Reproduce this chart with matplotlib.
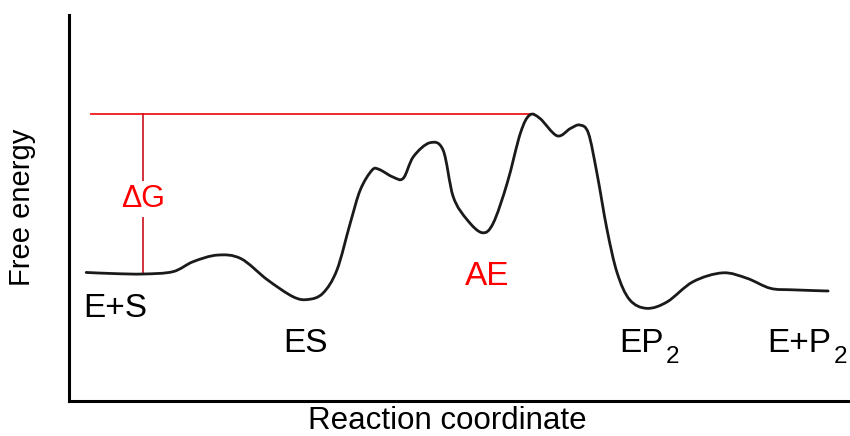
import matplotlib
matplotlib.use("Agg")
import matplotlib.pyplot as plt
import numpy as np
from matplotlib.path import Path
from matplotlib.patches import PathPatch

plt.rcParams['font.family'] = ['Liberation Sans', 'DejaVu Sans']

# free energy profile along the reaction coordinate (0-100 units)
coord = [2.2, 5.9, 9.5, 13.3, 15.9, 19.0, 22.0, 25.4, 28.7, 30.6, 32.5, 34.3,
         36.0, 37.3, 38.8, 39.7, 41.5, 42.8, 44.1, 46.2, 47.9, 49.2, 51.0, 52.9,
         54.3, 56.1, 57.8, 59.0, 60.3, 62.5, 64.2, 65.4, 66.5, 67.6, 68.9, 70.2,
         71.8, 74.0, 76.6, 79.9, 83.7, 86.8, 89.8, 92.7, 97.2]
energy = [33.3, 33.0, 32.9, 33.5, 36.1, 37.8, 36.9, 31.4, 27.0, 26.3, 27.9, 33.9,
          46.0, 54.7, 59.8, 60.0, 58.0, 57.7, 63.3, 66.9, 65.0, 52.9, 46.9, 43.6,
          46.0, 56.4, 69.4, 74.1, 73.2, 68.7, 70.6, 71.5, 69.4, 59.0, 44.3, 33.1,
          26.2, 24.0, 25.7, 30.9, 33.2, 31.8, 29.2, 28.8, 28.5]

# activation energy marker
barrier_top = 74.35
barrier_base = 32.9
barrier_x = 9.5
barrier_start = 2.8
barrier_end = 59.0

# state labels: text, subscript, left x, baseline y, colour
labels = ['E+S', 'ES', 'AE', 'EP', 'E+P']
label_subs = ['', '', '', '2', '2']
label_x = [1.8, 27.4, 50.7, 70.5, 89.4]
label_y = [21.8, 12.7, 30.1, 12.7, 12.7]
label_colors = ['black', 'black', '#ff0000', 'black', 'black']


def smooth_path(xs, ys):
    # catmull-rom through the read points, drawn as cubic bezier segments
    pts = np.column_stack([xs, ys])
    verts = [pts[0]]
    codes = [Path.MOVETO]
    n = len(pts)
    for i in range(n - 1):
        p0 = pts[max(i - 1, 0)]
        p1 = pts[i]
        p2 = pts[i + 1]
        p3 = pts[min(i + 2, n - 1)]
        verts += [p1 + (p2 - p0) / 6, p2 - (p3 - p1) / 6, p2]
        codes += [Path.CURVE4] * 3
    return Path(verts, codes)


fig = plt.figure(figsize=(8.5, 4.36), dpi=100)
ax = fig.add_axes([69 / 850, 1 - 401 / 436, 781 / 850, 386 / 436])

ax.add_patch(PathPatch(smooth_path(coord, energy), facecolor='none',
                       edgecolor='#1a1a1a', lw=2.0, capstyle='round',
                       joinstyle='round', zorder=3))

ax.plot([barrier_start, barrier_end], [barrier_top, barrier_top],
        color='#f01818', lw=1.3, zorder=2)
ax.plot([barrier_x, barrier_x], [barrier_top, barrier_base],
        color='#c8101c', lw=1.2, zorder=2)
ax.text(barrier_x, 50.3, '\u0394G', color='#ff0000', fontsize=22,
        ha='center', va='baseline', zorder=4,
        bbox=dict(facecolor='white', edgecolor='none', pad=2))

for txt, sub, x, y, c in zip(labels, label_subs, label_x, label_y, label_colors):
    t = ax.text(x, y, txt, color=c, fontsize=24, ha='left', va='baseline')
    if sub:
        ax.annotate(sub, xy=(1, 0), xycoords=t, xytext=(1.5, -3),
                    textcoords='offset points', fontsize=17.5, color=c,
                    ha='left', va='baseline')

ax.set_xlim(0, 100)
ax.set_ylim(0, 100)
ax.set_xticks([])
ax.set_yticks([])
for side in ['top', 'right']:
    ax.spines[side].set_visible(False)
for side in ['left', 'bottom']:
    ax.spines[side].set_linewidth(2.2)
    ax.spines[side].set_color('black')

fig.text(447 / 850, 1 - 429 / 436, 'Reaction coordinate', fontsize=22.5,
         ha='center', va='baseline')
fig.text(22 / 850, 1 - 207 / 436, 'Free energy', fontsize=21, rotation=90,
         ha='center', va='center')

fig.savefig('out.png', dpi=100)
